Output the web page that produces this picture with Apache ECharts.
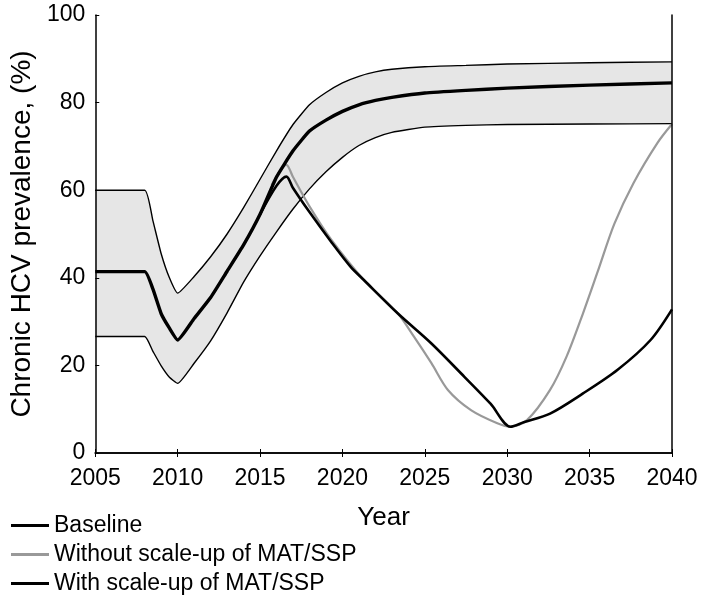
<!DOCTYPE html>
<html>
<head>
<meta charset="utf-8">
<script src="https://cdn.jsdelivr.net/npm/echarts@6/dist/echarts.min.js"></script>
<style>
  html, body { margin: 0; padding: 0; background: #fff; }
  #chart { width: 702px; height: 597px; }
</style>
</head>
<body>
<div id="chart"></div>
<script>
// uncertainty band + baseline share one year grid
const bandYears = [2005, 2008, 2008.5, 2009, 2009.5, 2010, 2011, 2012, 2013, 2014, 2015, 2016, 2017, 2018, 2019, 2020, 2021, 2022, 2023, 2025, 2027.5, 2030, 2035, 2040];
const upperVals = [60, 60, 53, 45.5, 40, 36.5, 40.3, 44.8, 50, 56, 62.5, 69, 75, 79.5, 82.3, 84.5, 86, 87, 87.6, 88.2, 88.5, 88.8, 89.1, 89.3];
const lowerVals = [26.6, 26.6, 23.2, 19.9, 17.3, 15.9, 20.5, 25.6, 32, 39, 45, 50.5, 55.7, 60.3, 64.2, 67.5, 70.2, 72, 73.2, 74.4, 74.8, 75, 75.1, 75.2];
const baselineVals = [41.4, 41.4, 37.4, 31.8, 28.5, 25.8, 30.7, 35.5, 41.5, 47.5, 54.5, 63, 69, 73.5, 76, 78, 79.5, 80.5, 81.2, 82.2, 82.8, 83.3, 84, 84.5];

// with scale-up of MAT/SSP
const withYears = [2015, 2016, 2016.6, 2017, 2018, 2019.3, 2020.5, 2021.3, 2023.35, 2025.4, 2027.4, 2029, 2030.2, 2031, 2032.6, 2034.6, 2036.7, 2038.7, 2040];
const withVals = [54.5, 61, 63.1, 60.5, 55, 48.3, 42.5, 39.5, 31.9, 25, 17.4, 11.2, 6.0, 7.0, 9.0, 13.6, 19.0, 25.8, 32.8];

// without scale-up of MAT/SSP
const withoutYears = [2015.7, 2016.6, 2017, 2018, 2019.3, 2021.3, 2023.35, 2024.35, 2025.4, 2026.4, 2027.8, 2029.4, 2030.2, 2031.2, 2032.6, 2033.6, 2034.6, 2035.5, 2036.5, 2037.66, 2039.1, 2040];
const withoutVals = [61.2, 65.8, 63, 56.3, 48.8, 39.5, 31.9, 26.5, 20.5, 14.4, 9.8, 6.8, 6.0, 7.5, 14.4, 22, 31.9, 41.5, 52.3, 61.6, 70.7, 75.1];

const xTicks = [2005, 2010, 2015, 2020, 2025, 2030, 2035, 2040];
const yTicks = [0, 20, 40, 60, 80, 100];
const legendNames = ["Baseline", "Without scale-up of MAT/SSP", "With scale-up of MAT/SSP"];

const pairs = (xs, ys) => xs.map((x, i) => [x, ys[i]]);
const FONT = "Liberation Sans, Arial, sans-serif";

const chart = echarts.init(document.getElementById("chart"));

// one legend box per row so it never wraps into columns
const legends = legendNames.map((name, i) => ({
  orient: "vertical",
  left: 11,
  top: 514 + i * 29,
  padding: 0,
  itemWidth: 38,
  itemHeight: 3,
  icon: "rect",
  selectedMode: false,
  textStyle: { fontFamily: FONT, fontSize: 23, color: "#000" },
  data: [name]
}));

chart.setOption({
  animation: false,
  backgroundColor: "#fff",
  textStyle: { fontFamily: FONT, color: "#000" },
  grid: { left: 93, right: 30, top: 15, bottom: 144 },
  legend: legends,
  xAxis: [
    {
      type: "value",
      min: 2005,
      max: 2040,
      interval: 5,
      z: 10,
      name: "Year",
      nameLocation: "middle",
      nameGap: 52,
      nameTextStyle: { fontSize: 26, color: "#000" },
      axisLine: { lineStyle: { color: "#000", width: 1.5 } },
      axisTick: { inside: true, length: 4, lineStyle: { color: "#000" } },
      axisLabel: {
        fontSize: 23,
        color: "#000",
        margin: 14,
        formatter: v => (xTicks.includes(v) ? String(v) : "")
      },
      splitLine: { show: false }
    },
    {
      type: "value",
      position: "top",
      min: 2005,
      max: 2040,
      interval: 5,
      z: 10,
      axisLine: { show: true, lineStyle: { color: "#000", width: 1.5 } },
      axisTick: { inside: true, length: 4, lineStyle: { color: "#000" } },
      axisLabel: { show: false },
      splitLine: { show: false }
    }
  ],
  yAxis: [
    {
      type: "value",
      min: 0,
      max: 100,
      interval: 20,
      z: 10,
      name: "Chronic HCV prevalence, (%)",
      nameLocation: "middle",
      nameGap: 50,
      nameTextStyle: { fontSize: 28, color: "#000" },
      axisLine: { show: true, lineStyle: { color: "#000", width: 1.5 } },
      axisTick: { show: true, inside: true, length: 4, lineStyle: { color: "#000" } },
      axisLabel: {
        fontSize: 23,
        color: "#000",
        margin: 10,
        formatter: v => (yTicks.includes(v) ? String(v) : "")
      },
      splitLine: { show: false }
    },
    {
      type: "value",
      position: "right",
      min: 0,
      max: 100,
      interval: 20,
      z: 10,
      axisLine: { show: true, lineStyle: { color: "#000", width: 1.5 } },
      axisTick: { show: false },
      axisLabel: { show: false },
      splitLine: { show: false }
    }
  ],
  series: [
    {
      // grey fill from the upper bound down to the axis
      name: "bandUpperFill",
      type: "line",
      data: pairs(bandYears, upperVals),
      symbol: "none",
      smooth: 0.15,
      lineStyle: { width: 0, opacity: 0 },
      areaStyle: { color: "#e6e6e6", opacity: 1 },
      silent: true,
      z: 1
    },
    {
      // white fill under the lower bound cuts the band out
      name: "bandLowerFill",
      type: "line",
      data: pairs(bandYears, lowerVals),
      symbol: "none",
      smooth: 0.15,
      lineStyle: { width: 0, opacity: 0 },
      areaStyle: { color: "#fff", opacity: 1 },
      silent: true,
      z: 1
    },
    {
      name: "Lower",
      type: "line",
      data: pairs(bandYears, lowerVals),
      symbol: "none",
      smooth: 0.15,
      lineStyle: { color: "#000", width: 1.4 },
      z: 2
    },
    {
      name: "Upper",
      type: "line",
      data: pairs(bandYears, upperVals),
      symbol: "none",
      smooth: 0.15,
      lineStyle: { color: "#000", width: 1.4 },
      z: 2
    },
    {
      name: "Without scale-up of MAT/SSP",
      type: "line",
      data: pairs(withoutYears, withoutVals),
      symbol: "none",
      smooth: 0.3,
      color: "#999",
      lineStyle: { color: "#999", width: 2.2 },
      z: 3
    },
    {
      name: "With scale-up of MAT/SSP",
      type: "line",
      data: pairs(withYears, withVals),
      symbol: "none",
      smooth: 0.3,
      color: "#000",
      lineStyle: { color: "#000", width: 2.6 },
      z: 4
    },
    {
      name: "Baseline",
      type: "line",
      data: pairs(bandYears, baselineVals),
      symbol: "none",
      smooth: 0.15,
      color: "#000",
      lineStyle: { color: "#000", width: 3.4 },
      z: 5
    }
  ]
});
</script>
</body>
</html>
